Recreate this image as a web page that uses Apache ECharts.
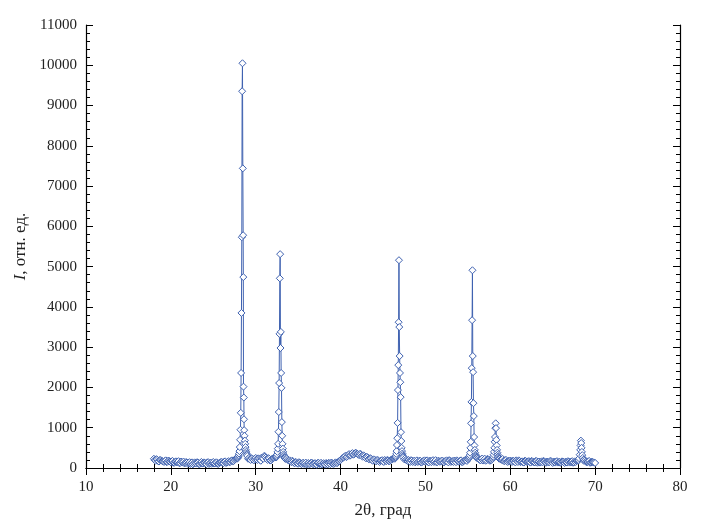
<!DOCTYPE html>
<html>
<head>
<meta charset="utf-8">
<script src="https://cdn.jsdelivr.net/npm/echarts@6/dist/echarts.min.js"></script>
<style>html,body{margin:0;padding:0;background:#fff}#c{width:728px;height:526px}</style>
</head>
<body>
<div id="c"></div>
<script>
// X-axis / Y-axis ticks
const xTicks = [10, 20, 30, 40, 50, 60, 70, 80];
const yTicks = [0, 1000, 2000, 3000, 4000, 5000, 6000, 7000, 8000, 9000, 10000, 11000];

// Background scan, even channels: 2θ = 18.0 ... 70.0, step 0.2 (counts); zeros lie inside reflection windows
const scanStartA = 18.0;
const scanStep = 0.2;
const baselineA = [
  230,180,205,160,195,170,150,190,155,175,
  140,175,130,165,150,120,160,135,115,150,
  105,145,120,90,140,110,135,100,150,115,
  130,95,145,120,105,150,115,140,100,135,
  150,120,165,135,170,150,190,175,220,260,
  0,0,0,0,0,0,250,200,235,190,
  250,200,225,180,240,300,260,200,230,190,
  235,260,0,0,0,0,0,0,250,200,
  190,145,165,120,140,105,135,95,130,110,
  85,125,100,135,90,120,80,130,105,90,
  120,85,110,130,95,125,100,140,120,165,
  200,240,270,310,290,345,320,370,340,380,
  350,320,340,280,300,240,260,210,230,180,
  210,165,195,150,185,160,200,170,190,175,
  210,230,0,0,0,0,0,0,240,190,
  200,150,185,170,140,190,160,175,145,180,
  155,190,140,170,180,150,195,145,170,160,
  185,140,175,160,195,150,170,185,145,175,
  160,190,150,185,200,215,0,0,0,0,
  0,240,200,225,185,230,190,215,180,205,
  0,0,0,0,235,200,180,195,160,180,
  185,150,175,140,170,190,145,165,135,175,
  150,170,135,165,145,175,130,160,150,140,
  165,130,155,145,170,125,150,160,135,155,
  140,160,125,150,170,135,145,130,165,175,
  0,0,0,0,190,140,165,130,155,140,
  125
];
// Background scan, odd channels: 2θ = 18.1 ... 69.9, step 0.2
const scanStartB = 18.1;
const baselineB = [
  195,220,170,200,185,160,180,145,185,160,
  165,130,155,140,170,125,145,160,125,135,
  125,100,140,115,130,145,95,130,110,140,
  110,140,100,135,125,110,140,105,125,150,
  130,160,125,155,145,180,160,205,240,0,
  0,0,0,0,0,230,215,245,205,220,
  215,240,195,260,230,290,225,245,185,220,
  250,270,0,0,0,0,0,225,230,185,
  165,180,130,150,115,145,110,120,100,135,
  110,95,130,105,115,90,125,100,130,110,
  100,125,90,115,135,105,120,130,145,180,
  220,255,285,270,325,305,355,330,365,360,
  330,355,305,315,265,280,225,245,195,215,
  180,200,165,175,195,150,180,200,165,195,
  220,240,0,0,0,0,0,215,205,175,
  175,195,150,180,165,150,185,135,170,190,
  175,150,185,145,195,165,140,180,155,185,
  150,170,190,140,180,165,150,175,190,155,
  185,145,170,200,175,0,0,0,0,0,
  260,215,190,235,205,180,225,200,190,0,
  0,0,0,230,210,225,170,200,150,165,
  170,180,155,190,150,175,160,140,180,155,
  165,145,175,150,140,170,155,135,165,175,
  145,160,140,175,145,160,135,170,145,130,
  165,145,155,135,160,150,170,140,150,185,
  0,0,0,210,160,150,175,135,150,135
];

// Reflections: [2θ, counts]
const peak28 = [
  [27.80,230],[27.84,240],[27.88,250],[27.92,270],[27.96,290],[28.00,320],[28.04,360],[28.08,420],
  [28.12,520],[28.16,700],[28.20,950],[28.24,1370],[28.28,2360],[28.32,3850],[28.36,5730],[28.40,9355],
  [28.44,10050],[28.48,7440],[28.52,5780],[28.54,4740],[28.56,2020],[28.60,1750],[28.62,1210],[28.64,940],
  [28.68,800],[28.72,680],[28.76,600],[28.80,520],[28.84,450],[28.88,400],[28.92,360],[28.96,330],[29.00,300]
];
const peak33 = [
  [32.40,260],[32.44,280],[32.48,300],[32.52,340],[32.56,400],[32.60,480],[32.64,600],[32.68,900],
  [32.72,1390],[32.76,2110],[32.80,3330],[32.84,4710],[32.88,5310],[32.92,2980],[32.96,3380],[33.00,2360],
  [33.04,1990],[33.08,1140],[33.12,800],[33.16,600],[33.20,480],[33.24,400],[33.28,340],[33.32,300],
  [33.36,270],[33.40,250]
];
const peak47 = [
  [46.40,230],[46.44,250],[46.48,270],[46.52,300],[46.56,350],[46.60,420],[46.64,570],[46.68,740],
  [46.72,1120],[46.76,1935],[46.80,2555],[46.84,3620],[46.88,5160],[46.92,3500],[46.96,2780],[47.00,2360],
  [47.04,2130],[47.08,1760],[47.12,890],[47.16,670],[47.20,500],[47.24,420],[47.28,360],[47.32,320],
  [47.36,290],[47.40,260]
];
const peak56 = [
  [55.10,230],[55.14,250],[55.18,280],[55.22,320],[55.26,380],[55.30,500],[55.34,650],[55.38,1110],
  [55.42,1640],[55.46,2480],[55.50,3670],[55.54,4910],[55.58,2780],[55.62,2380],[55.66,1610],[55.70,1290],
  [55.74,770],[55.78,560],[55.82,450],[55.86,380],[55.90,330],[55.94,300],[55.98,280],[56.02,260],[56.06,250]
];
const peak58 = [
  [57.90,220],[57.96,250],[58.00,280],[58.04,330],[58.08,400],[58.12,500],[58.16,650],[58.20,770],
  [58.24,990],[58.28,1110],[58.32,990],[58.36,700],[58.40,560],[58.44,450],[58.48,380],[58.52,330],
  [58.56,290],[58.60,260],[58.66,240]
];
const peak68 = [
  [68.00,180],[68.06,200],[68.12,240],[68.18,330],[68.24,450],[68.28,560],[68.32,680],[68.36,620],
  [68.40,500],[68.44,400],[68.48,320],[68.54,250],[68.60,200],[68.66,180]
];

const peaks = [peak28, peak33, peak47, peak56, peak58, peak68];

// assemble measured points: background points outside reflection windows + reflections
const points = [];
function addScan(start, values) {
  values.forEach(function (v, i) {
    const x = +(start + scanStep * i).toFixed(2);
    const inPeak = peaks.some(function (p) { return x >= p[0][0] - 1e-6 && x <= p[p.length - 1][0] + 1e-6; });
    if (!inPeak) points.push([x, v]);
  });
}
addScan(scanStartA, baselineA);
addScan(scanStartB, baselineB);
peaks.forEach(function (p) { p.forEach(function (d) { points.push(d); }); });
points.sort(function (a, b) { return a[0] - b[0]; });

const FONT = 'Liberation Serif';
const BLUE = '#3f62b1';

const chart = echarts.init(document.getElementById('c'), null, { renderer: 'canvas' });
function axisCommon() {
  return {
    axisLine: { show: true, lineStyle: { color: '#000', width: 1.2 } },
    axisTick: { show: true, inside: true, length: 7, lineStyle: { color: '#000', width: 1 } },
    minorTick: { show: true, splitNumber: 5, length: 4, lineStyle: { color: '#000', width: 1 } },
    splitLine: { show: false },
    minorSplitLine: { show: false }
  };
}
const numFmt = function (v) { return String(v); };
chart.setOption({
  animation: false,
  backgroundColor: '#fff',
  grid: { left: 86, right: 48, top: 25, bottom: 58, containLabel: false },
  xAxis: [
    Object.assign(axisCommon(), {
      type: 'value', min: xTicks[0], max: xTicks[xTicks.length - 1], interval: 10,
      position: 'bottom',
      name: '2θ, град', nameLocation: 'middle', nameGap: 34,
      nameTextStyle: { fontFamily: FONT, fontSize: 17, color: '#222' },
      axisLabel: { fontFamily: FONT, fontSize: 15, color: '#222', margin: 12, formatter: numFmt }
    }),
    Object.assign(axisCommon(), {
      type: 'value', min: xTicks[0], max: xTicks[xTicks.length - 1], interval: 10,
      position: 'top', axisLabel: { show: false }
    })
  ],
  yAxis: [
    Object.assign(axisCommon(), {
      type: 'value', min: yTicks[0], max: yTicks[yTicks.length - 1], interval: 1000,
      position: 'left',
      name: '{i|I}, отн. ед.', nameLocation: 'middle', nameGap: 54, nameRotate: 90,
      nameTextStyle: {
        fontFamily: FONT, fontSize: 17, color: '#222',
        rich: { i: { fontFamily: FONT, fontSize: 17, fontStyle: 'italic', color: '#222' } }
      },
      axisLabel: { fontFamily: FONT, fontSize: 15, color: '#222', margin: 9, formatter: numFmt }
    }),
    Object.assign(axisCommon(), {
      type: 'value', min: yTicks[0], max: yTicks[yTicks.length - 1], interval: 1000,
      position: 'right', axisLabel: { show: false }
    })
  ],
  series: [{
    type: 'line',
    data: points,
    xAxisIndex: 0, yAxisIndex: 0,
    symbol: 'diamond',
    symbolSize: 7,
    showSymbol: true,
    showAllSymbol: true,
    sampling: null,
    large: false,
    lineStyle: { color: BLUE, width: 1 },
    itemStyle: { color: '#fff', borderColor: BLUE, borderWidth: 1 },
    emphasis: { disabled: true }
  }]
});
</script>
</body>
</html>
